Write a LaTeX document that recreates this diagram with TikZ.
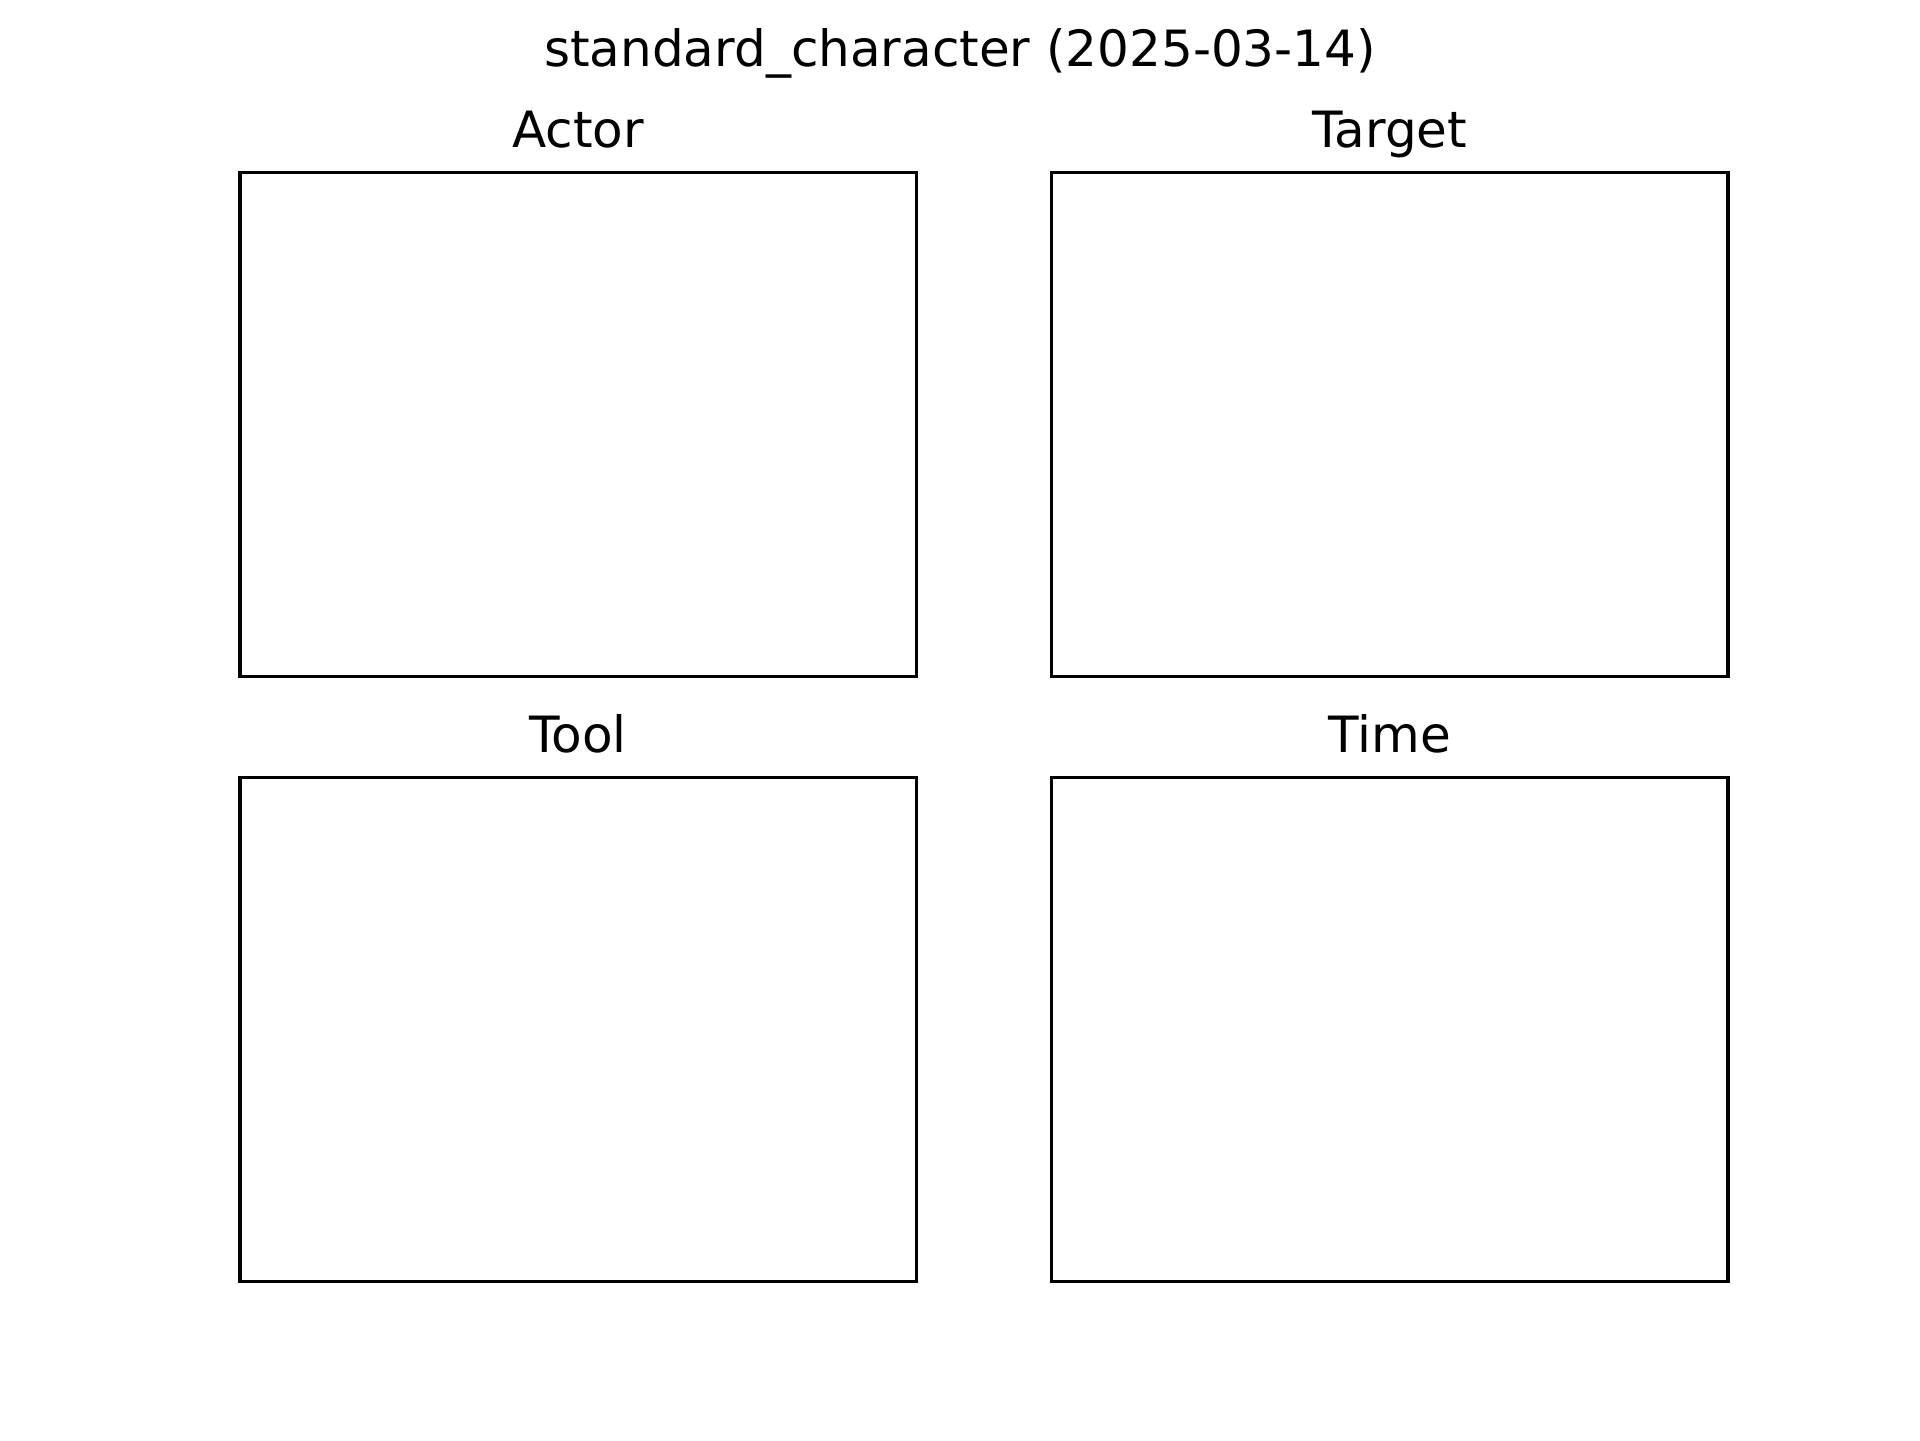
\documentclass[tikz,border=0pt]{standalone}
\usepackage{fontspec}
\setmainfont{DejaVu Sans}
\usepackage{tikz}

\begin{document}
\begin{tikzpicture}[x=0.24pt, y=-0.24pt,
  panel/.style = {shape=rectangle, draw, line width=0.8pt,
    inner sep=0pt, outer sep=0pt,
    minimum width=162.33pt, minimum height=120.96pt},
  paneltitle/.style = {anchor=base, inner sep=0pt,
    font=\fontsize{12}{14}\selectfont}]
  \useasboundingbox (0,0) rectangle (1920,1440);
  \node[paneltitle] (suptitle) at (960,66.7) {standard\_character (2025-03-14)};
  % the four empty panels
  \node[panel] (actor)  at (578.2,424.8)  {};
  \node[panel] (target) at (1389.8,424.8) {};
  \node[panel] (tool)   at (578.2,1029.6) {};
  \node[panel] (time)   at (1389.8,1029.6) {};
  \node[paneltitle] (actortitle)  at ([yshift=6pt]actor.north)  {Actor};
  \node[paneltitle] (targettitle) at ([yshift=6pt]target.north) {Target};
  \node[paneltitle] (tooltitle)   at ([yshift=6pt]tool.north)   {Tool};
  \node[paneltitle] (timetitle)   at ([yshift=6pt]time.north)   {Time};
\end{tikzpicture}
\end{document}
